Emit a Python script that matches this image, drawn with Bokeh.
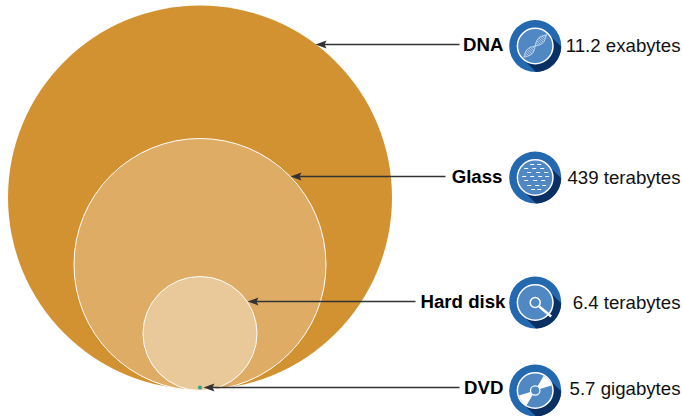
import numpy as np
from bokeh.plotting import figure
from bokeh.embed import file_html
from bokeh.resources import INLINE
from bokeh.core.properties import value

names = ["DNA", "Glass", "Hard disk", "DVD"]
capacity = ["11.2 exabytes", "439 terabytes", "6.4 terabytes", "5.7 gigabytes"]
radius = [192, 126, 57, 2]
fills = ["#D29232", "#DFAC66", "#E9C899", "#2CA58D"]
lines = [None, "white", "white", None]
BASE = 389
CX = 199.5
icon_y = [45.5, 177, 302, 390]
arrow_y = [44, 176, 301, 387]
arrow_tip = [315, 290, 247, 203]
arrow_tail = [459, 445, 415, 459]
name_right = [503, 502, 505, 503]
ICON_X = 534.7
R_OUT, R_IN = 26, 17.8
BLUE, NAVY, MID = "#2468B0", "#0A2F62", "#5088C4"

p = figure(width=682, height=416, x_range=(0, 682), y_range=(416, 0),
           output_backend="svg", toolbar_location=None, min_border=0,
           outline_line_color=None, background_fill_color="white")
p.axis.visible = False
p.grid.visible = False

for r, f, l in zip(radius, fills, lines):
    bot = BASE + (1 if l else 0)
    p.circle(x=CX, y=bot - r, radius=r, fill_color=f, line_color=l, line_width=1)

for y, tip, tail in zip(arrow_y, arrow_tip, arrow_tail):
    p.line([tail, tip + 8], [y, y], line_color="#333333", line_width=1.3)
    p.patch([tip, tip + 11, tip + 9, tip + 11], [y, y - 4, y, y + 4], fill_color="#333333", line_color=None)

p.text(x=name_right, y=[v + 0.2 for v in arrow_y], text=names, text_font=value("Liberation Sans"),
       text_font_style="bold", text_font_size="18.67px", text_align="right", text_baseline="middle", text_color="black")
p.text(x=[680] * 4, y=[v + 1 for v in arrow_y], text=capacity, text_font=value("Liberation Sans"),
       text_font_size="18.67px", text_align="right", text_baseline="middle", text_color="#111111")

s = np.sqrt(.5)
for cy in icon_y:
    p.circle(x=ICON_X, y=cy, radius=R_OUT, fill_color=BLUE, line_color=None)
    a0 = np.arcsin(R_IN / R_OUT)
    a = np.linspace(np.pi / 4 - a0, np.pi / 4 + a0, 60)
    px = np.r_[ICON_X + R_IN * s, ICON_X + R_OUT * np.cos(a), ICON_X - R_IN * s]
    py = np.r_[cy - R_IN * s, cy + R_OUT * np.sin(a), cy + R_IN * s]
    p.patch(px, py, fill_color=NAVY, line_color=None)
    p.circle(x=ICON_X, y=cy, radius=R_IN, fill_color=MID, line_color="white", line_width=1.5)

# DNA
cy = icon_y[0]
u = np.linspace(-16, 16, 80)
for sign in (1, -1):
    off = sign * 3.2 * np.sin(u * 0.2)
    p.line(ICON_X + (u + off) * s, cy - (u - off) * s, line_color="#D6E4F3", line_width=1)
for ui in np.arange(-15, 16, 1.8):
    off = 3.2 * np.sin(ui * 0.2)
    p.line(ICON_X + np.array([ui + off, ui - off]) * s, cy - np.array([ui - off, ui + off]) * s,
           line_color="#D6E4F3", line_width=0.8)

# Glass
cy = icon_y[1]
dash_x = [-5, 2, -11, -3, 5, -8, 1, 9, -13, -5, 3, 10, -11, -2, 6, -8, 0, 7, -4, 2]
dash_y = [-13, -13, -9, -9, -9, -5, -5, -5, -1, -1, -1, -1, 3, 3, 3, 8, 8, 8, 12, 12]
for dx, dy in zip(dash_x, dash_y):
    p.line([ICON_X + dx, ICON_X + dx + 4], [cy + dy, cy + dy], line_color="white", line_width=1)

# Hard disk
cy = icon_y[2]
p.circle(x=ICON_X, y=cy, radius=5, fill_color=None, line_color="white", line_width=1.5)
p.line([ICON_X + 4, ICON_X + 16], [cy + 4, cy + 14], line_color="white", line_width=2.5)

# DVD
cy = icon_y[3]
for a0, a1 in [(-1.05, -0.3), (2.1, 2.85)]:
    a = np.linspace(a0, a1, 30)
    p.patch(np.r_[ICON_X + 4 * np.cos(a), ICON_X + 17 * np.cos(a[::-1])],
            np.r_[cy + 4 * np.sin(a), cy + 17 * np.sin(a[::-1])], fill_color="white", line_color=None)
p.circle(x=ICON_X, y=cy, radius=4.7, fill_color=MID, line_color="white", line_width=1.2)

open("out.html", "w").write(file_html(p, INLINE))
